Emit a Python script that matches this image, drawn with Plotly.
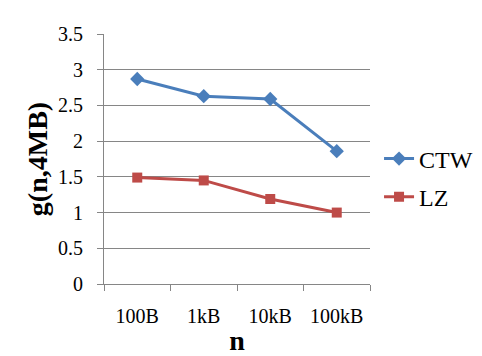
import plotly.graph_objects as go

sizes = ["100B", "1kB", "10kB", "100kB"]
ctw = [2.87, 2.63, 2.59, 1.86]
lz = [1.49, 1.45, 1.19, 1.00]

font = "Liberation Serif, Times New Roman, DejaVu Serif"

fig = go.Figure()
fig.add_trace(go.Scatter(x=sizes, y=ctw, name="CTW", mode="lines+markers", legendgroup="a",
                         line=dict(color="#4A7EBB", width=3),
                         marker=dict(symbol="diamond", size=11, color="#4A7EBB")))
fig.add_trace(go.Scatter(x=sizes, y=lz, name="LZ", mode="lines+markers", legendgroup="b",
                         line=dict(color="#BE4B48", width=3),
                         marker=dict(symbol="square", size=10, color="#BE4B48")))

# page has an 8px body margin, so the figure is drawn 8px smaller
fig.update_layout(
    width=474, height=348,
    margin=dict(l=96, r=112, t=26, b=72, autoexpand=False),
    paper_bgcolor="white", plot_bgcolor="white",
    font=dict(family=font, size=20, color="black", weight="normal"),
    legend=dict(x=1.034, y=0.424, yanchor="middle",
                font=dict(family=font, size=24, weight="normal"),
                traceorder="grouped", tracegroupgap=4, itemwidth=30),
    showlegend=True,
)
fig.update_xaxes(
    type="category", range=[-0.5, 3.5], automargin=False,
    showline=True, linecolor="#868686", linewidth=1,
    ticks="outside", tickson="boundaries", ticklen=6, tickcolor="#868686",
    showgrid=False, ticklabelstandoff=14,
    tickfont=dict(family=font, size=20, weight="normal"),
    title=dict(text="<b>n</b>", font=dict(family=font, size=28), standoff=4),
)
fig.update_yaxes(
    range=[0, 3.5], dtick=0.5, automargin=False,
    showline=True, linecolor="#868686", linewidth=1,
    ticks="outside", ticklen=6, tickcolor="#868686",
    showgrid=True, gridcolor="#868686", gridwidth=1, zeroline=False,
    ticklabelstandoff=10,
    tickfont=dict(family=font, size=20, weight="normal"),
    title=dict(text="<b>g(n,4MB)</b>", font=dict(family=font, size=28), standoff=2),
)

fig.write_html("out.html")
